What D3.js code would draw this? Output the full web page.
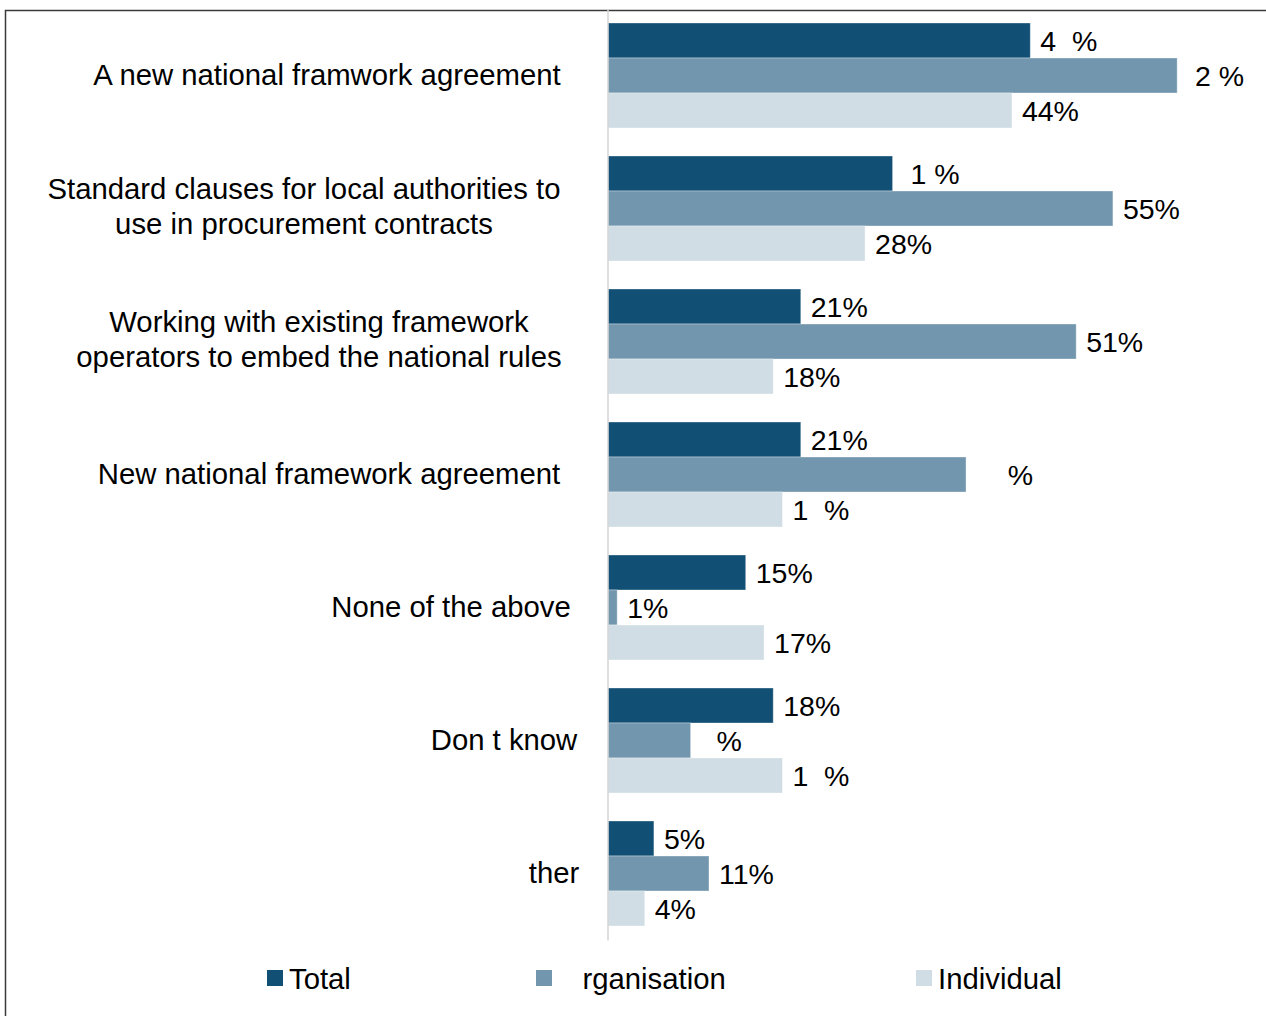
<!DOCTYPE html>
<html>
<head>
<meta charset="utf-8">
<script src="https://cdn.jsdelivr.net/npm/d3@7"></script>
<style>
  html, body { margin: 0; padding: 0; background: #fff; }
  svg { display: block; font-family: "Liberation Sans", Arial, sans-serif; }
</style>
</head>
<body>
<div id="chart"></div>
<script>
// categories, top to bottom (as shown, glyphs missing in the original)
const categories = [
  ["A new national framwork agreement"],
  ["Standard clauses for local authorities to", "use in procurement contracts"],
  ["Working with existing framework", "operators to embed the national rules"],
  ["New national framework agreement"],
  ["None of the above"],
  ["Don t know"],
  ["ther"]
];
const seriesNames = ["Total", "\u00A0\u00A0\u00A0rganisation", "Individual"];

// values in %
const totalValues = [46, 31, 21, 21, 15, 18, 5];
const orgValues = [62, 55, 51, 39, 1, 9, 11];
const indValues = [44, 28, 18, 19, 17, 19, 4];

// value labels as they appear (some digits missing in the original)
const totalLabels = ["4\u2007%", "\u00A01 %", "21%", "21%", "15%", "18%", "5%"];
const orgLabels = ["\u00A02 %", "55%", "51%", "\u2007\u2007%", "1%", "\u2007%", "11%"];
const indLabels = ["44%", "28%", "18%", "1\u2007%", "17%", "1\u2007%", "4%"];

(function () {
  const W = 1266, H = 1016;
  const colors = ["#124f74", "#7296ae", "#d0dde5"];
  const fontSize = 28.5;
  const catFontSize = 29.3;

  // horizontal centre of each category label
  const labelCenter = [327, 304, 319, 329, 451, 504, 554];

  const svg = d3.select("#chart").append("svg")
    .attr("width", W).attr("height", H);

  // outer frame (right / bottom edges fall outside the picture)
  svg.append("rect")
    .attr("x", 5.5).attr("y", 10.5)
    .attr("width", W + 20).attr("height", H + 20)
    .attr("fill", "none").attr("stroke", "#3a3a3a").attr("stroke-width", 1.5);

  const idx = d3.range(categories.length);
  const y = d3.scaleBand()
    .domain(idx)
    .range([9, 940])
    .paddingInner(28 / 133)
    .paddingOuter(14 / 133);

  const x = d3.scaleLinear().domain([0, 100]).range([608, 608 + 918]);

  const series = [
    { name: seriesNames[0], values: totalValues, labels: totalLabels },
    { name: seriesNames[1], values: orgValues, labels: orgLabels },
    { name: seriesNames[2], values: indValues, labels: indLabels }
  ];

  const sub = d3.scaleBand().domain([0, 1, 2]).range([0, y.bandwidth()]);

  // bars
  series.forEach((s, si) => {
    const g = svg.append("g");
    g.selectAll("rect")
      .data(idx)
      .enter().append("rect")
      .attr("x", x(0))
      .attr("y", i => y(i) + sub(si))
      .attr("width", i => x(s.values[i]) - x(0))
      .attr("height", sub.bandwidth())
      .attr("fill", colors[si])
      .attr("stroke", "#ffffff")
      .attr("stroke-opacity", 0.35)
      .attr("stroke-width", 1);

    g.selectAll("text")
      .data(idx)
      .enter().append("text")
      .attr("x", i => x(s.values[i]) + 10)
      .attr("y", i => y(i) + sub(si) + sub.bandwidth() / 2 + 10)
      .attr("font-size", fontSize)
      .attr("fill", "#000")
      .text(i => s.labels[i]);
  });

  // vertical axis line, no ticks
  svg.append("g")
    .attr("transform", `translate(${x(0) - 0.5},0)`)
    .call(d3.axisLeft(y).tickSize(0).tickFormat(""))
    .call(g => g.select(".domain").attr("stroke", "#d4d4d4").attr("stroke-width", 1.5));

  // category labels
  const cat = svg.append("g");
  idx.forEach(i => {
    const lines = categories[i];
    const mid = y(i) + y.bandwidth() / 2;
    const lh = 35;
    const t = cat.append("text")
      .attr("text-anchor", "middle")
      .attr("font-size", catFontSize)
      .attr("fill", "#000");
    lines.forEach((ln, k) => {
      t.append("tspan")
        .attr("x", labelCenter[i])
        .attr("y", mid + 9.5 + (k - (lines.length - 1) / 2) * lh - (lines.length > 1 ? 2 : 0))
        .text(ln);
    });
  });

  // legend
  const legendX = [267, 536, 916];
  const leg = svg.append("g");
  series.forEach((s, si) => {
    leg.append("rect")
      .attr("x", legendX[si]).attr("y", 970)
      .attr("width", 16).attr("height", 16)
      .attr("fill", colors[si]);
    leg.append("text")
      .attr("x", legendX[si] + 22).attr("y", 989)
      .attr("font-size", catFontSize)
      .attr("fill", "#000")
      .text(s.name);
  });
})();
</script>
</body>
</html>
